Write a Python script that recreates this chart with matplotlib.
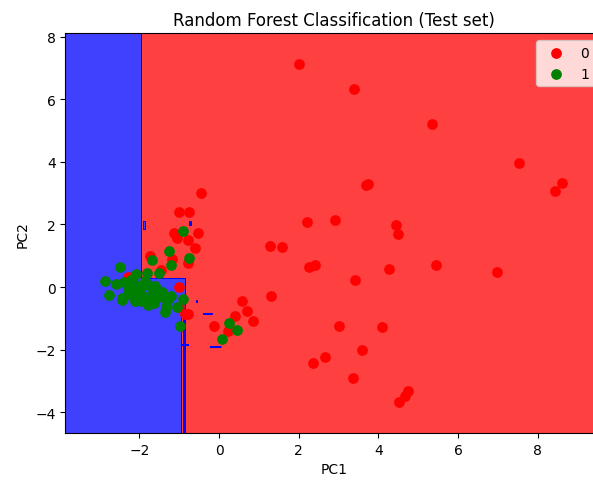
import numpy as np
import matplotlib
matplotlib.use('Agg')
import matplotlib.pyplot as plt
from matplotlib.colors import ListedColormap

# test set points (PC1, PC2)
x_class0 = [2.01, 3.39, 5.35, 7.54, 8.62, 8.44, 3.69, 3.74, -0.45,
            2.21, 2.91, 4.45, 4.50, 1.28, 1.58, 2.26, 2.41, 4.27, 5.45, 6.98, 3.42,
            1.31, 0.57, 0.71, 0.40, 0.84, -0.12, 0.23, 3.02, 4.10, 3.59, 2.66, 2.36,
            3.37, 4.75, 4.67, 4.52,
            -1.01, -0.75, -1.06, -1.13, -0.79, -0.54, -0.60, -1.73, -1.19, -0.79,
            -1.00, -1.02, -0.77, -0.85, -1.45, -2.29]
y_class0 = [7.12, 6.33, 5.21, 3.96, 3.32, 3.07, 3.26, 3.29, 3.00,
            2.08, 2.14, 1.98, 1.69, 1.31, 1.28, 0.64, 0.70, 0.58, 0.70, 0.48, 0.22,
            -0.29, -0.44, -0.76, -0.92, -1.10, -1.24, -1.40, -1.25, -1.28, -2.01, -2.24, -2.43,
            -2.91, -3.32, -3.48, -3.67,
            2.39, 2.40, 1.56, 1.72, 1.50, 1.73, 1.25, 0.98, 0.89, 0.77,
            -0.01, -0.65, -0.86, -0.86, 0.55, 0.32]

x_class1 = [-0.92, -1.27, -0.75, -1.68, -1.21, -1.50, -1.80, -2.09, -2.49, -2.86,
            -2.76, -2.45, -0.90, -1.06, -1.36, -0.98, 0.24, 0.46, 0.08,
            -2.58, -2.38, -2.29, -2.16, -2.04, -1.91, -1.73, -1.61, -2.45, -2.19,
            -2.11, -1.90, -1.79, -1.78, -1.63, -1.53, -1.44, -1.31, -1.34,
            -2.00, -1.85, -2.20, -1.65, -1.20, -2.30, -1.95]
y_class1 = [1.78, 1.16, 0.93, 0.87, 0.72, 0.44, 0.45, 0.42, 0.63, 0.18,
            -0.25, -0.41, -0.38, -0.65, -0.79, -1.24, -1.16, -1.37, -1.66,
            0.10, 0.15, 0.05, 0.05, 0.03, 0.06, 0.04, 0.03, -0.35, -0.30,
            -0.44, -0.28, -0.58, -0.44, -0.51, -0.33, -0.17, -0.44, -0.65,
            -0.15, 0.20, 0.25, -0.20, -0.30, -0.10, -0.45]

# areas the forest predicts as class 1: (x0, x1, y0, y1)
blue_regions = [(-10, -1.96, -10, 10),
                (-1.96, -0.85, -0.70, 0.26),
                (-1.96, -0.95, -10, -0.70),
                (-0.89, -0.86, -10, -0.70),
                (-1.90, -1.86, 1.83, 2.08),
                (-0.75, -0.71, 1.95, 2.08),
                (-0.58, -0.54, -0.49, -0.45),
                (-0.39, -0.18, -0.87, -0.84),
                (-0.23, 0.04, -1.94, -1.90),
                (-0.94, -0.77, -1.87, -1.84)]

X_set = np.column_stack([x_class0 + x_class1, y_class0 + y_class1])
y_set = np.array([0] * len(x_class0) + [1] * len(x_class1))

X1, X2 = np.meshgrid(np.arange(X_set[:, 0].min() - 1, X_set[:, 0].max() + 1, 0.01),
                     np.arange(X_set[:, 1].min() - 1, X_set[:, 1].max() + 1, 0.01))
Z = np.zeros(X1.shape)
for x0, x1, y0, y1 in blue_regions:
    Z[(X1 >= x0) & (X1 < x1) & (X2 >= y0) & (X2 < y1)] = 1

fig = plt.figure(figsize=(5.93, 4.85), dpi=100)
ax = fig.add_axes([0.1103, 0.1047, 0.9047, 0.8247])
plt.contourf(X1, X2, Z, alpha=0.75, cmap=ListedColormap(('red', 'blue')))
plt.xlim(X1.min(), X1.max())
plt.ylim(X2.min(), X2.max())
for i, j in enumerate(np.unique(y_set)):
    plt.scatter(X_set[y_set == j, 0], X_set[y_set == j, 1],
                c=ListedColormap(('red', 'green'))(i), label=j, s=45)
plt.title('Random Forest Classification (Test set)')
plt.xlabel('PC1')
plt.ylabel('PC2')
plt.legend()
plt.savefig('out.png', dpi=100)
